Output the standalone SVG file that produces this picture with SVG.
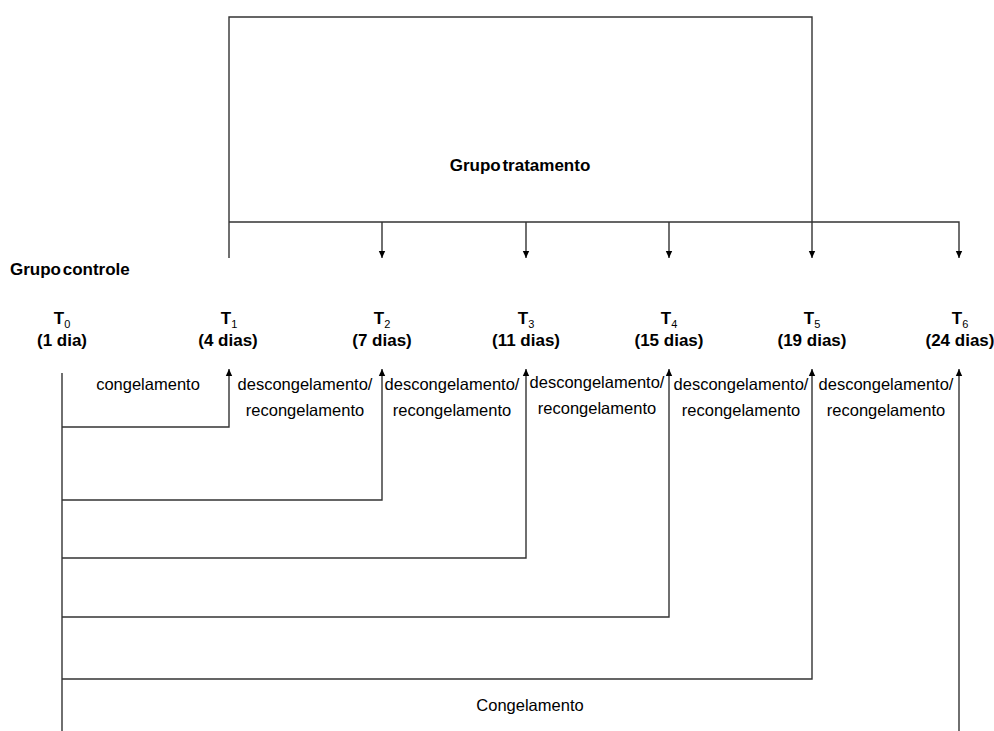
<svg xmlns="http://www.w3.org/2000/svg" width="994" height="731" viewBox="0 0 994 731">
<style>
.ln{fill:none;stroke:#333;stroke-width:1.4}
.t{font-family:"Liberation Sans",Arial,sans-serif;font-size:16.5px;fill:#000;text-anchor:middle}
.b{font-family:"Liberation Sans",Arial,sans-serif;font-size:17px;font-weight:bold;fill:#000;text-anchor:middle}
.sub{font-size:11px;font-weight:normal}
</style>
<defs>
<marker id="ah" markerWidth="8" markerHeight="8" refX="7" refY="4" orient="auto" markerUnits="userSpaceOnUse">
<path d="M0,0.8 L7,4 L0,7.2 Z" fill="#000"/>
</marker>
</defs>
<rect width="994" height="731" fill="#fff"/>
<g id="connectors">
<path class="ln" d="M229,258 V17 H812 V258" marker-end="url(#ah)"/>
<path class="ln" d="M229,222 H959 V258" marker-end="url(#ah)"/>
<path class="ln" d="M382,222 V258" marker-end="url(#ah)"/>
<path class="ln" d="M526,222 V258" marker-end="url(#ah)"/>
<path class="ln" d="M669,222 V258" marker-end="url(#ah)"/>
<path class="ln" d="M62,373 V731"/>
<path class="ln" d="M62,427 H229 V369" marker-end="url(#ah)"/>
<path class="ln" d="M62,500 H382 V369" marker-end="url(#ah)"/>
<path class="ln" d="M62,558 H526 V369" marker-end="url(#ah)"/>
<path class="ln" d="M62,617 H669 V369" marker-end="url(#ah)"/>
<path class="ln" d="M62,679 H812 V369" marker-end="url(#ah)"/>
<path class="ln" d="M959,731 V369" marker-end="url(#ah)"/>
</g>
<g id="grupo-tratamento"><text class="b" x="520" y="171" word-spacing="-3">Grupo tratamento</text></g>
<g id="grupo-controle"><text class="b" x="10" y="275" style="text-anchor:start" word-spacing="-3">Grupo controle</text></g>
<g id="T0"><text class="b" x="62" y="324">T<tspan class="sub" dy="4">0</tspan></text><text class="b" x="62" y="346">(1 dia)</text></g>
<g id="T1"><text class="b" x="229" y="324">T<tspan class="sub" dy="4">1</tspan></text><text class="b" x="228" y="346">(4 dias)</text></g>
<g id="T2"><text class="b" x="382" y="324">T<tspan class="sub" dy="4">2</tspan></text><text class="b" x="382" y="346">(7 dias)</text></g>
<g id="T3"><text class="b" x="526" y="324">T<tspan class="sub" dy="4">3</tspan></text><text class="b" x="526" y="346">(11 dias)</text></g>
<g id="T4"><text class="b" x="669" y="324">T<tspan class="sub" dy="4">4</tspan></text><text class="b" x="669" y="346">(15 dias)</text></g>
<g id="T5"><text class="b" x="812" y="324">T<tspan class="sub" dy="4">5</tspan></text><text class="b" x="812" y="346">(19 dias)</text></g>
<g id="T6"><text class="b" x="960" y="324">T<tspan class="sub" dy="4">6</tspan></text><text class="b" x="960" y="346">(24 dias)</text></g>
<g id="label-congelamento"><text class="t" x="148" y="390">congelamento</text></g>
<g id="label-dr1"><text class="t" x="305" y="390">descongelamento/</text><text class="t" x="305" y="416">recongelamento</text></g>
<g id="label-dr2"><text class="t" x="452" y="390">descongelamento/</text><text class="t" x="452" y="416">recongelamento</text></g>
<g id="label-dr3"><text class="t" x="597" y="388">descongelamento/</text><text class="t" x="597" y="414">recongelamento</text></g>
<g id="label-dr4"><text class="t" x="741" y="390">descongelamento/</text><text class="t" x="741" y="416">recongelamento</text></g>
<g id="label-dr5"><text class="t" x="886" y="390">descongelamento/</text><text class="t" x="886" y="416">recongelamento</text></g>
<g id="label-Congelamento"><text class="t" x="530" y="711">Congelamento</text></g>
</svg>
